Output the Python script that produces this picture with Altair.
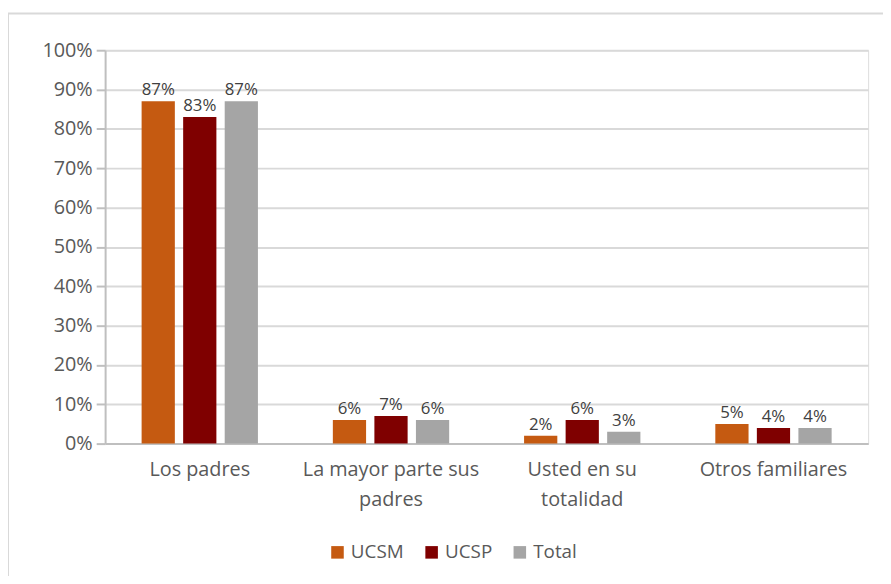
import altair as alt
import pandas as pd

categories = ["Los padres", "La mayor parte sus padres", "Usted en su totalidad", "Otros familiares"]
series = ["UCSM", "UCSP", "Total"]
ucsm = [0.87, 0.06, 0.02, 0.05]
ucsp = [0.83, 0.07, 0.06, 0.04]
total = [0.87, 0.06, 0.03, 0.04]
colors = ["#C55A11", "#7F0000", "#A5A5A5"]
y_ticks = [0.0, 0.1, 0.2, 0.3, 0.4, 0.5, 0.6, 0.7, 0.8, 0.9, 1.0]

rows = []
for i, c in enumerate(categories):
    for s, vals in zip(series, [ucsm, ucsp, total]):
        rows.append({"categoria": c, "serie": s, "valor": vals[i]})
df = pd.DataFrame(rows)

label_expr = ("datum.label == 'La mayor parte sus padres' ? ['La mayor parte sus', 'padres'] : "
              "datum.label == 'Usted en su totalidad' ? ['Usted en su', 'totalidad'] : datum.label")

FONT = "Open Sans"
TXT = "#595959"

x = alt.X("categoria:N", sort=categories, title=None,
          scale=alt.Scale(paddingInner=0.37, paddingOuter=0.18),
          axis=alt.Axis(labelAngle=0, labelExpr=label_expr, labelFontSize=20,
                        labelColor=TXT, labelFont=FONT, labelPadding=16,
                        labelLineHeight=30, ticks=False, domainColor="#BFBFBF",
                        domainWidth=2, grid=False))
xo = alt.XOffset("serie:N", sort=series, scale=alt.Scale(paddingInner=0.2, paddingOuter=0.05))
y = alt.Y("valor:Q", title=None,
          scale=alt.Scale(domain=[0, 1], nice=False),
          axis=alt.Axis(format=".0%", values=y_ticks, labelFontSize=20, labelOverlap=False,
                        labelColor=TXT, labelFont=FONT, tickSize=9, tickColor="#BFBFBF",
                        tickWidth=2, domainColor="#BFBFBF", domainWidth=2,
                        gridColor="#D9D9D9", gridWidth=2, labelPadding=4))

base = alt.Chart(df).encode(x=x, xOffset=xo, y=y)

bars = base.mark_bar().encode(
    color=alt.Color("serie:N", sort=series, scale=alt.Scale(domain=series, range=colors),
                    legend=alt.Legend(title=None, orient="none", legendX=225, legendY=497,
                                      direction="horizontal", symbolType="square",
                                      symbolSize=160, labelFontSize=19, labelColor=TXT,
                                      labelFont=FONT, columnPadding=18, symbolStrokeWidth=0)),
)

labels = base.mark_text(baseline="bottom", dy=-2, fontSize=17, color="#404040", font=FONT).encode(
    text=alt.Text("valor:Q", format=".0%"),
)

frame_df = pd.DataFrame({"k": [0]})
frame = alt.Chart(frame_df).mark_rect(fill=None, stroke="#D9D9D9", strokeWidth=2).encode(
    x=alt.value(-98), x2=alt.value(820), y=alt.value(-37), y2=alt.value(600)
)

chart = alt.layer(frame, bars, labels).properties(
    width=770, height=397,
    autosize=alt.AutoSizeParams(type="none"),
    padding={"left": 98, "top": 40, "right": 15, "bottom": 131},
).configure_view(stroke=None).configure(background="white")

chart.save("out.html", embed_options={"renderer": "svg", "actions": False})
